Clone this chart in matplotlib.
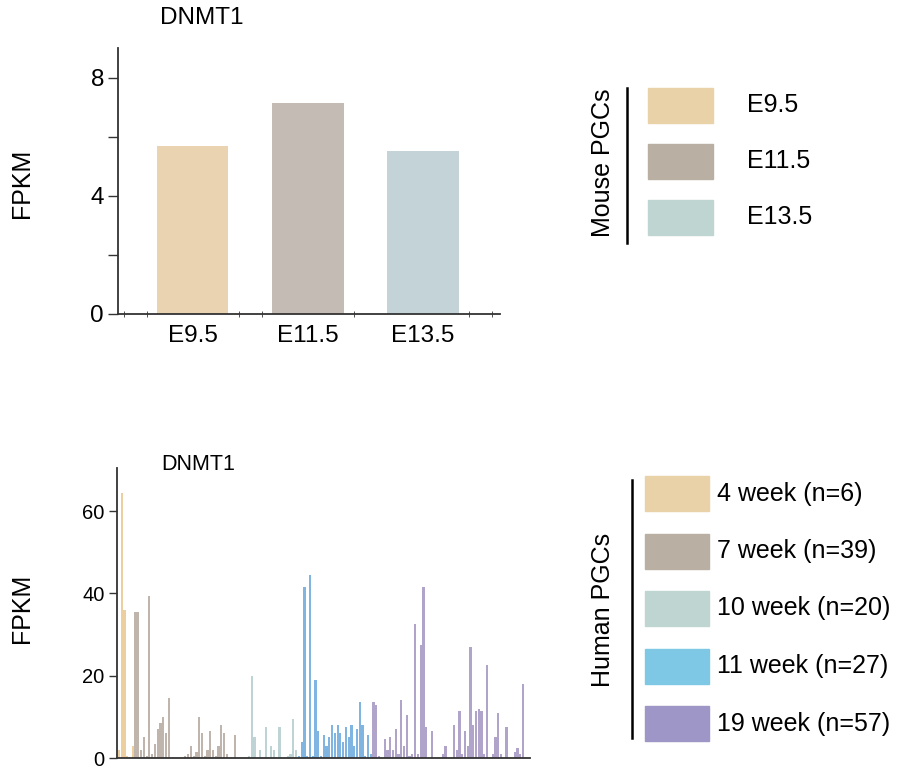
import matplotlib
matplotlib.use("Agg")
import matplotlib.pyplot as plt
from matplotlib.patches import Rectangle
import numpy as np

plt.rcParams['font.family'] = ['Liberation Sans', 'DejaVu Sans']

# mouse PGCs (top panel)
mouse_stages = ['E9.5', 'E11.5', 'E13.5']
mouse_fpkm = [5.68, 7.13, 5.5]
mouse_colors = ['#E9D3B0', '#C4BBB4', '#C4D3D8']
mouse_legend_colors = ['#E9D2A8', '#B9B0A3', '#BFD5D1']

# human PGCs (bottom panel), one value per cell
week4 = [2, 64.5, 36, 0.5, 0.3, 3]
week7 = [35.5, 35.5, 2, 5, 0.5, 39.5, 1, 3.5, 7, 8.5, 10, 6, 14.5, 0, 0, 0, 0, 0,
         0.5, 1, 3, 0.5, 1.5, 10, 6, 0.5, 2, 6.5, 2, 0.5, 3, 8, 6, 1, 0, 0, 5.5, 0, 0]
week10 = [0, 0, 0.5, 20, 5, 0, 2, 0, 7.5, 0, 3, 2, 0, 7.5, 0, 0, 0.5, 1, 9.5, 2]
week11 = [0.5, 4, 41.5, 0.5, 44.5, 0.5, 19, 6.5, 0.5, 5.5, 3, 5, 8, 6, 8, 6, 4,
          7.5, 5, 8, 3, 7, 13.5, 8, 0.5, 5.5, 1]
week19 = [13.5, 13, 0.5, 0, 4.5, 2, 5, 2, 7, 1, 14, 3, 10.5, 0.5, 1, 32.5, 1, 27.5,
          41.5, 7.5, 0, 6.5, 0, 0, 0, 1, 3, 0, 0, 8, 2, 11.5, 1, 6.5, 3, 27, 8, 11.5,
          12, 11.5, 1, 22.5, 0, 1, 5, 11, 1, 0, 7.5, 0, 0, 1.5, 2.5, 1, 18, 0, 0]
human_groups = [week4, week7, week10, week11, week19]
human_labels = ['4 week (n=6)', '7 week (n=39)', '10 week (n=20)',
                '11 week (n=27)', '19 week (n=57)']
human_bar_colors = ['#EDCF9F', '#C0B5AC', '#BDD3D4', '#7FB5E0', '#B1A4CB']
human_legend_colors = ['#E9D2A8', '#B9B0A3', '#BFD5D1', '#7EC8E5', '#9E96C6']

W, H = 898, 772
fig = plt.figure(figsize=(W / 100, H / 100), dpi=100)


def box(left, top, right, bottom):
    return [left / W, 1 - bottom / H, (right - left) / W, (bottom - top) / H]


spine_col = '#333333'

# ---- top panel ----
ax1 = fig.add_axes(box(118, 48, 500, 314))
x = np.arange(len(mouse_stages))
ax1.bar(x, mouse_fpkm, width=0.62, color=mouse_colors)
ax1.set_xlim(-0.65, 2.67)
ax1.set_ylim(0, 9)
ax1.set_yticks([0, 4, 8])
ax1.set_yticks([2, 6], minor=True)
ax1.set_xticks(x)
ax1.set_xticklabels(mouse_stages)
ax1.set_xticks([-0.6, -0.4, 0.4, 0.6, 1.4, 2.4, 2.6], minor=True)
ax1.tick_params(axis='x', which='major', length=0, labelsize=17.5, pad=8)
ax1.tick_params(axis='x', which='minor', length=4, direction='inout', color=spine_col)
ax1.tick_params(axis='y', which='both', length=7, width=1, color=spine_col,
                labelsize=17.5, pad=3)
for s in ['top', 'right']:
    ax1.spines[s].set_visible(False)
for s in ['left', 'bottom']:
    ax1.spines[s].set_color(spine_col)
    ax1.spines[s].set_linewidth(1.3)
fig.text(202 / W, 1 - 18 / H, 'DNMT1', fontsize=17.5, ha='center', va='center')
fig.text(22 / W, 1 - 183 / H, 'FPKM', fontsize=18, rotation=90, ha='center', va='center')

# top legend
fig.add_artist(plt.Line2D([627 / W, 627 / W], [1 - 88 / H, 1 - 243 / H],
                          color='black', lw=1.8))
fig.text(603 / W, 1 - 163 / H, 'Mouse PGCs', fontsize=18, rotation=90,
         ha='center', va='center')
for i, (lab, col) in enumerate(zip(mouse_stages, mouse_legend_colors)):
    top = 88 + i * 56
    fig.add_artist(Rectangle((648 / W, 1 - (top + 35) / H), 65 / W, 35 / H,
                             color=col, transform=fig.transFigure))
    fig.text(747 / W, 1 - (top + 17.5) / H, lab, fontsize=18, va='center', ha='left')

# ---- bottom panel ----
ax2 = fig.add_axes(box(117, 468, 530, 758))
start = 0
for vals, col in zip(human_groups, human_bar_colors):
    idx = np.arange(start, start + len(vals))
    ax2.bar(idx, vals, width=0.8, color=col)
    start += len(vals)
ax2.set_xlim(-0.7, 148.5)
ax2.set_ylim(0, 70.5)
ax2.set_yticks([0, 20, 40, 60])
ax2.set_xticks([])
ax2.tick_params(axis='y', length=6, width=1, color=spine_col, labelsize=14.5, pad=3)
for s in ['top', 'right']:
    ax2.spines[s].set_visible(False)
for s in ['left', 'bottom']:
    ax2.spines[s].set_color(spine_col)
    ax2.spines[s].set_linewidth(1.3)
fig.text(198 / W, 1 - 465 / H, 'DNMT1', fontsize=15.5, ha='center', va='center')
fig.text(22 / W, 1 - 608 / H, 'FPKM', fontsize=18, rotation=90, ha='center', va='center')

# bottom legend
fig.add_artist(plt.Line2D([632 / W, 632 / W], [1 - 480 / H, 1 - 738 / H],
                          color='black', lw=1.8))
fig.text(603 / W, 1 - 610 / H, 'Human PGCs', fontsize=18, rotation=90,
         ha='center', va='center')
for i, (lab, col) in enumerate(zip(human_labels, human_legend_colors)):
    top = 476 + i * 57.5
    fig.add_artist(Rectangle((645 / W, 1 - (top + 35) / H), 64 / W, 35 / H,
                             color=col, transform=fig.transFigure))
    fig.text(717 / W, 1 - (top + 17.5) / H, lab, fontsize=18, va='center', ha='left')

fig.savefig('out.png', dpi=100)
